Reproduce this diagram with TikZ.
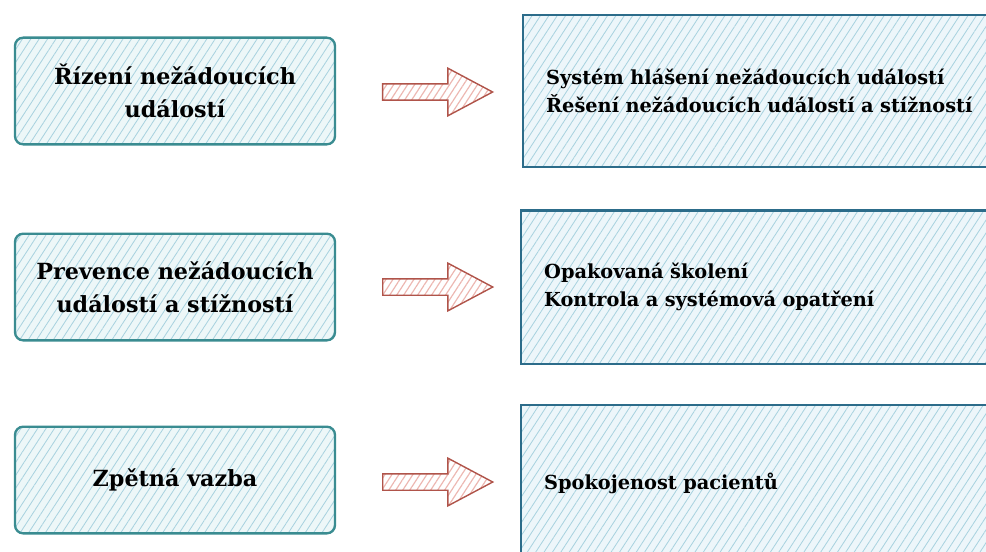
\documentclass[tikz,border=0pt]{standalone}
\usepackage{fontspec}
\setmainfont{DejaVu Serif}
\usetikzlibrary{shapes.arrows,patterns.meta}
\definecolor{tealline}{HTML}{3A8C91}
\definecolor{tealfill}{HTML}{EDF7F8}
\definecolor{steelline}{HTML}{2C6C8A}
\definecolor{bluefill}{HTML}{EDF6FA}
\definecolor{hatchblue}{HTML}{A8D2DF}
\definecolor{arrowline}{HTML}{B0544A}
\definecolor{hatchpink}{HTML}{EDB7B1}
\begin{document}
\begin{tikzpicture}
  [x=0.03cm,y=-0.03cm,
   topic/.style={draw=tealline,line width=2pt,rounded corners=7pt,
     preaction={fill=tealfill},pattern={Lines[angle=57,distance=6pt,line width=0.7pt]},
     pattern color=hatchblue,minimum width=9.6cm,minimum height=3.2cm,
     align=center,font=\bfseries\fontsize{19}{28}\selectfont},
   detail/.style={draw=steelline,line width=2pt,anchor=west,
     preaction={fill=bluefill},pattern={Lines[angle=57,distance=6pt,line width=0.7pt]},
     pattern color=hatchblue,text width=13.6cm,inner xsep=0.69cm,
     align=left,font=\bfseries\fontsize{16.5}{24}\selectfont},
   pointer/.style={single arrow,draw=arrowline,line width=1.2pt,
     preaction={fill=white},pattern={Lines[angle=57,distance=5pt,line width=1pt]},
     pattern color=hatchpink,inner sep=0pt,text height=0.45cm,text depth=0pt,
     minimum height=3.3cm,single arrow head extend=0.47cm,single arrow tip angle=56}]
  \clip (0,0) rectangle (986,551);
  % left column
  \node[topic] (t1) at (175,91) {Řízení nežádoucích\\událostí};
  \node[topic] (t2) at (175,287) {Prevence nežádoucích\\událostí a stížností};
  \node[topic] (t3) at (175,480) {Zpětná vazba};
  % right column
  \node[detail,minimum height=4.56cm] (d1) at (522,91) {Systém hlášení nežádoucích událostí\\Řešení nežádoucích událostí a stížností};
  \node[detail,minimum height=4.6cm] (d2) at (520,287) {Opakovaná školení\\Kontrola a systémová opatření};
  \node[detail,minimum height=4.68cm] (d3) at (520,483) {Spokojenost pacientů};
  % arrows
  \node[pointer] (p1) at (430,92) {};
  \node[pointer] (p2) at (430,287) {};
  \node[pointer] (p3) at (430,482) {};
\end{tikzpicture}
\end{document}
